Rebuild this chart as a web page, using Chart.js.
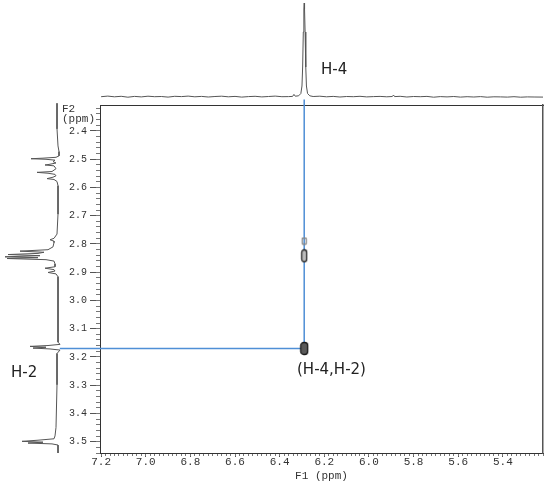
<!DOCTYPE html>
<html>
<head>
<meta charset="utf-8">
<script src="https://cdn.jsdelivr.net/npm/chart.js@4.4.1/dist/chart.umd.min.js"></script>
<style>
  body { margin: 0; background: #fff; }
  #wrap { position: relative; width: 550px; height: 484px; overflow: hidden; }
  canvas { position: absolute; }
  .lbl { position: absolute; font-family: "DejaVu Sans", sans-serif; font-size: 15px; color: #222; white-space: nowrap; line-height: 16px; }
  .f2 { position: absolute; left: 62px; top: 104px; font-family: "Liberation Mono", monospace; font-size: 11px; line-height: 10px; color: #333; }
</style>
</head>
<body>
<div id="wrap">
  <canvas id="leftChart" width="62" height="350" style="left:0;top:103px"></canvas>
  <canvas id="topChart" width="443" height="100" style="left:100px;top:0"></canvas>
  <canvas id="mainChart" width="495" height="389" style="left:55px;top:95px"></canvas>
  <div class="f2">F2<br>(ppm)</div>
  <div class="lbl" style="left:321px;top:61px">H-4</div>
  <div class="lbl" style="left:11px;top:364px">H-2</div>
  <div class="lbl" style="left:297px;top:361px">(H-4,H-2)</div>
</div>
<script>
// axis ranges (ppm)
const f1Min = 5.22, f1Max = 7.205;
const f2Min = 2.309, f2Max = 3.54;
const f1Ticks = [7.2, 7.0, 6.8, 6.6, 6.4, 6.2, 6.0, 5.8, 5.6, 5.4];
const f2Ticks = [2.4, 2.5, 2.6, 2.7, 2.8, 2.9, 3.0, 3.1, 3.2, 3.3, 3.4, 3.5];

// 1D projection along F1 (top)
const topPpm = [7.20, 7.17, 7.14, 7.11, 7.08, 7.05, 7.02, 6.99, 6.96, 6.93, 6.90, 6.87, 6.84, 6.81, 6.78,
  6.75, 6.72, 6.69, 6.66, 6.63, 6.60, 6.57, 6.54, 6.51, 6.48, 6.45, 6.42, 6.39, 6.36, 6.342, 6.336, 6.330,
  6.315, 6.305, 6.300, 6.297, 6.294, 6.2915, 6.290, 6.2885, 6.286, 6.283, 6.280, 6.275, 6.265, 6.25, 6.22,
  6.19, 6.16, 6.13, 6.10, 6.07, 6.04, 6.01, 5.98, 5.95, 5.92, 5.895, 5.89, 5.885, 5.86, 5.83, 5.80, 5.77,
  5.74, 5.71, 5.68, 5.65, 5.62, 5.59, 5.56, 5.53, 5.50, 5.47, 5.44, 5.41, 5.38, 5.35, 5.32, 5.29, 5.26, 5.22];
const topIntensity = [0.3, 0.9, 0.2, 0.7, -0.2, 0.6, 0.1, 0.8, 0.3, 0.5, -0.1, 0.7, 0.4, 0.9, 0.2,
  0.6, 0.0, 0.5, 0.8, 0.2, 0.6, -0.1, 0.4, 0.7, 0.1, 0.5, 0.9, 0.3, 0.4, 0.6, 2.6, 0.8,
  1.2, 3.5, 11, 30, 65, 88, 94, 88, 65, 30, 11, 3.5, 1.2, 0.5, 0.8,
  0.2, 0.6, 0.0, 0.5, 0.3, 0.7, 0.1, 0.4, 0.6, 0.2, 0.5, 2.0, 0.4, 0.7, 0.0, 0.5, 0.3,
  0.6, -0.2, 0.4, 0.1, 0.5, -0.1, 0.3, 0.0, 0.4, -0.2, 0.2, 0.1, -0.1, 0.3, -0.2, 0.1, 0.0, -0.1];

// 1D projection along F2 (left)
const leftPpm = [2.31, 2.40, 2.46, 2.48, 2.495, 2.50, 2.503, 2.505, 2.507, 2.51, 2.515, 2.52, 2.525, 2.527,
  2.53, 2.54, 2.55, 2.553, 2.556, 2.56, 2.565, 2.57, 2.575, 2.578, 2.585, 2.60, 2.70, 2.77, 2.785, 2.79,
  2.795, 2.80, 2.815, 2.825, 2.83, 2.834, 2.838, 2.842, 2.846, 2.85, 2.853, 2.856, 2.86, 2.865, 2.875,
  2.885, 2.89, 2.895, 2.90, 2.905, 2.91, 2.92, 3.10, 3.15, 3.158, 3.162, 3.165, 3.168, 3.171, 3.174, 3.178,
  3.19, 3.30, 3.45, 3.48, 3.49, 3.495, 3.499, 3.502, 3.505, 3.508, 3.512, 3.54];
const leftIntensity = [1, 1, 0, -1, -1, 2, 15, 27, 12, 3, 5, 2, 9, 13,
  4, 2, 6, 21, 10, 3, 2, 5, 11, 4, 1, 0, 0, 1, 4, 8,
  4, 4, 5, 10, 38, 14, 20, 50, 18, 53, 20, 51, 12, 4, 3,
  3, 13, 4, 3, 10, 2, 0, 0, 0, -2, 10, 28, 12, 25, 8, -2,
  1, 1, 2, 3, 4, 20, 36, 15, 30, 6, 0, 0];

// 2D cross peaks
const peakF1 = [6.29, 6.29, 6.29];
const peakF2 = [3.17, 2.842, 2.79];
// guide lines through the H-4 / H-2 correlation
const h4Shift = 6.29, h2Shift = 3.17;

const blue = '#4f8fd6';
const ink = '#333';

function contourMark(w, h, fill, stroke, r) {
  const c = document.createElement('canvas');
  c.width = w + 3; c.height = h + 3;
  const g = c.getContext('2d');
  g.beginPath();
  g.roundRect(1.5, 1.5, w, h, r);
  if (fill) { g.fillStyle = fill; g.fill(); }
  g.strokeStyle = stroke; g.lineWidth = 1.3; g.stroke();
  return c;
}
const peakStyles = [
  contourMark(7, 12, '#5a5a5a', '#1a1a1a', 3),
  contourMark(5, 12, '#bdbdbd', '#2a2a2a', 2.5),
  contourMark(4, 6, null, '#888', 0.5)
];

const common = {
  responsive: false,
  animation: false,
  events: [],
  plugins: { legend: { display: false }, tooltip: { enabled: false } }
};

// top 1D spectrum
new Chart(document.getElementById('topChart'), {
  type: 'scatter',
  data: {
    datasets: [{
      data: topPpm.map((p, i) => ({ x: p, y: topIntensity[i] })),
      showLine: true, pointRadius: 0, borderColor: '#555', borderWidth: 1
    }]
  },
  options: {
    ...common,
    layout: { padding: 0 },
    scales: {
      x: { type: 'linear', min: f1Min, max: f1Max, reverse: true, display: false },
      y: { type: 'linear', min: -3, max: 97, display: false }
    }
  }
});

// left 1D spectrum
new Chart(document.getElementById('leftChart'), {
  type: 'scatter',
  data: {
    datasets: [{
      data: leftPpm.map((p, i) => ({ x: leftIntensity[i], y: p })),
      showLine: true, pointRadius: 0, borderColor: '#555', borderWidth: 1
    }]
  },
  options: {
    ...common,
    layout: { padding: 0 },
    scales: {
      x: { type: 'linear', min: -4, max: 58, reverse: true, display: false },
      y: { type: 'linear', min: f2Min, max: f2Max, reverse: true, display: false }
    }
  }
});

// main 2D map
const tickFont = { family: 'Liberation Mono', size: 11, lineHeight: 1 };
new Chart(document.getElementById('mainChart'), {
  type: 'scatter',
  data: {
    datasets: [
      {
        data: peakF1.map((p, i) => ({ x: p, y: peakF2[i] })),
        pointStyle: peakStyles
      },
      {
        data: [{ x: h4Shift, y: f2Min - 0.02 }, { x: h4Shift, y: h2Shift }],
        showLine: true, pointRadius: 0, borderColor: blue, borderWidth: 1.5, clip: false
      },
      {
        data: [{ x: f1Max + 0.18, y: h2Shift }, { x: h4Shift, y: h2Shift }],
        showLine: true, pointRadius: 0, borderColor: blue, borderWidth: 1.5, clip: false
      }
    ]
  },
  options: {
    ...common,
    layout: { padding: { left: 0, top: 8, right: 7, bottom: 0 } },
    scales: {
      x: {
        type: 'linear', position: 'bottom', min: f1Min, max: f1Max, reverse: true, weight: 1,
        afterBuildTicks: s => { s.ticks = f1Ticks.map(v => ({ value: v })); },
        afterFit: s => { s.height = 31; },
        ticks: { autoSkip: false, maxRotation: 0, padding: 0, color: ink, font: tickFont,
                 callback: v => v.toFixed(1) },
        grid: { drawOnChartArea: false, tickLength: 4, color: '#555' },
        border: { display: true, color: ink, width: 1 },
        title: { display: true, text: 'F1 (ppm)', color: ink, font: tickFont, padding: { top: 2, bottom: 2 } }
      },
      xMinor: {
        type: 'linear', position: 'bottom', min: f1Min, max: f1Max, reverse: true, weight: 0,
        afterFit: s => { s.height = 0; },
        ticks: { stepSize: 0.02, autoSkip: false, includeBounds: false, callback: () => '' },
        grid: { drawOnChartArea: false, tickLength: 3, color: '#777' },
        border: { display: false }
      },
      xTop: {
        type: 'linear', position: 'top', min: f1Min, max: f1Max, reverse: true,
        afterFit: s => { s.height = 0; },
        ticks: { display: false },
        grid: { display: false },
        border: { display: true, color: ink, width: 1 }
      },
      y: {
        type: 'linear', position: 'left', min: f2Min, max: f2Max, reverse: true, weight: 1,
        afterBuildTicks: s => { s.ticks = f2Ticks.map(v => ({ value: v })); },
        afterFit: s => { s.width = 45; },
        ticks: { autoSkip: false, padding: 3, color: ink, font: { family: 'Liberation Mono', size: 10 },
                 callback: v => v.toFixed(1) },
        grid: { drawOnChartArea: false, tickLength: 10, color: '#555' },
        border: { display: true, color: ink, width: 1 }
      },
      yMinor: {
        type: 'linear', position: 'left', min: f2Min, max: f2Max, reverse: true, weight: 0,
        afterFit: s => { s.width = 0; },
        ticks: { stepSize: 0.02, autoSkip: false, includeBounds: false, callback: () => '' },
        grid: { drawOnChartArea: false, tickLength: 4, color: '#777' },
        border: { display: false }
      },
      yRight: {
        type: 'linear', position: 'right', min: f2Min, max: f2Max, reverse: true,
        afterFit: s => { s.width = 0; },
        ticks: { display: false },
        grid: { display: false },
        border: { display: true, color: '#555', width: 1.5 }
      }
    }
  }
});
</script>
</body>
</html>
